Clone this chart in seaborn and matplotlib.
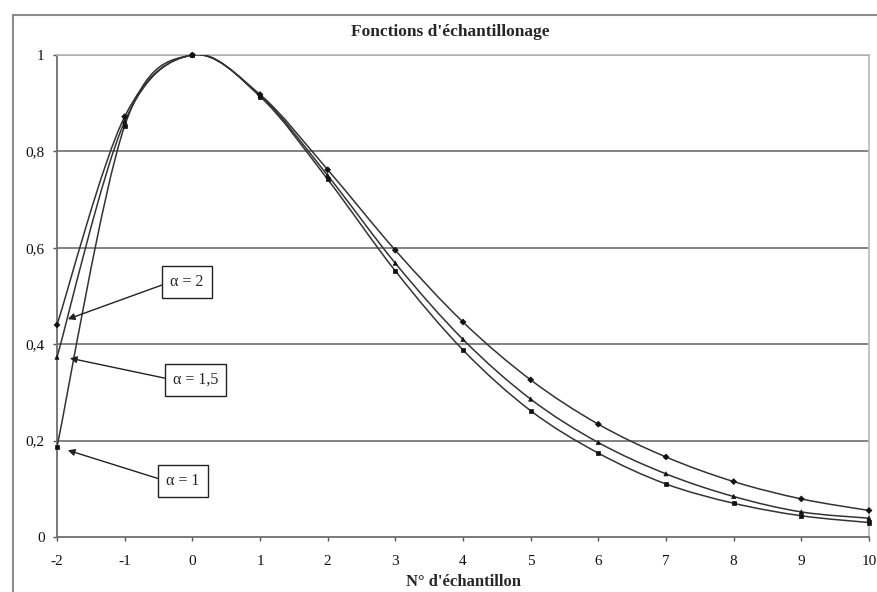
"""
Fonctions d'échantillonage - recreated with seaborn / matplotlib
"""

import matplotlib
matplotlib.use("Agg")
import matplotlib.pyplot as plt
from matplotlib.path import Path
from matplotlib.patches import PathPatch, Rectangle
import seaborn as sns
import pandas as pd

# sample index
samples = [-2, -1, 0, 1, 2, 3, 4, 5, 6, 7, 8, 9, 10]

# values, one list per alpha
alpha_2 = [0.440, 0.872, 1.0, 0.918, 0.762, 0.595, 0.446, 0.326, 0.234, 0.166, 0.115, 0.079, 0.055]
alpha_15 = [0.373, 0.862, 1.0, 0.916, 0.750, 0.568, 0.410, 0.286, 0.196, 0.131, 0.084, 0.052, 0.039]
alpha_1 = [0.187, 0.853, 1.0, 0.914, 0.742, 0.552, 0.388, 0.262, 0.174, 0.110, 0.070, 0.044, 0.030]

series_names = ["α = 2", "α = 1,5", "α = 1"]
series_values = [alpha_2, alpha_15, alpha_1]

y_ticks = [0, 0.2, 0.4, 0.6, 0.8, 1.0]
y_tick_labels = ["0", "0,2", "0,4", "0,6", "0,8", "1"]

title = "Fonctions d'échantillonage"
x_label = "N° d'échantillon"


def smooth_path(xs, ys, trans):
    """Excel-like smoothed line: Catmull-Rom turned into cubic Bezier segments"""
    pts = list(zip(xs, ys))
    verts = [pts[0]]
    codes = [Path.MOVETO]
    for i in range(len(pts) - 1):
        p0 = pts[i - 1] if i > 0 else pts[i]
        p1 = pts[i]
        p2 = pts[i + 1]
        p3 = pts[i + 2] if i + 2 < len(pts) else pts[i + 1]
        c1 = (p1[0] + (p2[0] - p0[0]) / 6, p1[1] + (p2[1] - p0[1]) / 6)
        c2 = (p2[0] - (p3[0] - p1[0]) / 6, p2[1] - (p3[1] - p1[1]) / 6)
        verts += [c1, c2, p2]
        codes += [Path.CURVE4] * 3
    return PathPatch(Path(verts, codes), fill=False, edgecolor="#333333",
                     lw=1.1, transform=trans, zorder=3)


sns.set_theme(style="white")
plt.rcParams["font.family"] = ["Liberation Serif", "DejaVu Serif"]

df = pd.DataFrame({
    "x": samples * 3,
    "y": alpha_2 + alpha_15 + alpha_1,
    "serie": sum([[n] * len(samples) for n in series_names], []),
})

fig = plt.figure(figsize=(8.77, 5.92), dpi=100)
ax = fig.add_axes([57 / 877, 1 - 537 / 592, (869 - 57) / 877, (537 - 55) / 592])

# outer chart border (right/bottom edges fall outside the picture)
fig.patches.append(Rectangle((13 / 877, -0.05), 1.0, 1 - 15 / 592 + 0.05,
                             transform=fig.transFigure, fill=False,
                             edgecolor="#8c8c8c", lw=1.5, zorder=0))

# horizontal grid
for yv in y_ticks[1:]:
    ax.axhline(yv, color="#7a7a7a", lw=1.3, zorder=1)

for vals in series_values:
    ax.add_patch(smooth_path(samples, vals, ax.transData))

sns.scatterplot(data=df, x="x", y="y", style="serie", style_order=series_names,
                markers={"α = 2": "D", "α = 1,5": "^", "α = 1": "s"},
                color="#111111", s=9, edgecolor="#111111", linewidth=0.5,
                legend=False, ax=ax, zorder=4, clip_on=False)

ax.set_xlim(-2, 10)
ax.set_ylim(0, 1)
ax.set_xticks(samples)
ax.set_xticklabels([str(v) for v in samples])
ax.set_yticks(y_ticks)
ax.set_yticklabels(y_tick_labels)
ax.tick_params(axis="both", direction="out", length=3, width=1, color="#555555",
               labelsize=11, labelcolor="#111111", left=True, bottom=True)
ax.tick_params(axis="x", pad=10)
ax.tick_params(axis="y", pad=6)

for side in ["left", "bottom"]:
    ax.spines[side].set_color("#6e6e6e")
    ax.spines[side].set_linewidth(1.3)
for side in ["top", "right"]:
    ax.spines[side].set_color("#b8b8b8")
    ax.spines[side].set_linewidth(1.2)

ax.set_xlabel("")
ax.set_ylabel("")
fig.text(463 / 877, 1 - 582 / 592, x_label, ha="center", va="center",
         fontsize=12, fontweight="bold")
fig.text(450 / 877, 1 - 32 / 592, title, ha="center", va="center",
         fontsize=12.5, fontweight="bold")

# labels with leader arrows pointing at the x = -2 samples
label_pos = [(-0.08, 0.529), (0.05, 0.326), (-0.14, 0.116)]
arrow_tip = [(-1.84, 0.452), (-1.81, 0.371), (-1.84, 0.180)]
for name, txt_xy, tip in zip(series_names, label_pos, arrow_tip):
    ax.annotate(name, xy=tip, xytext=txt_xy, ha="center", va="center",
                fontsize=11.5, zorder=6,
                bbox=dict(boxstyle="square,pad=0.5", fc="white", ec="#222222", lw=1.0),
                arrowprops=dict(arrowstyle="-|>", color="#222222", lw=1.0,
                                mutation_scale=10, shrinkA=0, shrinkB=0,
                                relpos=(0, 0.5)))

plt.savefig("out.png", dpi=100)
plt.close()
